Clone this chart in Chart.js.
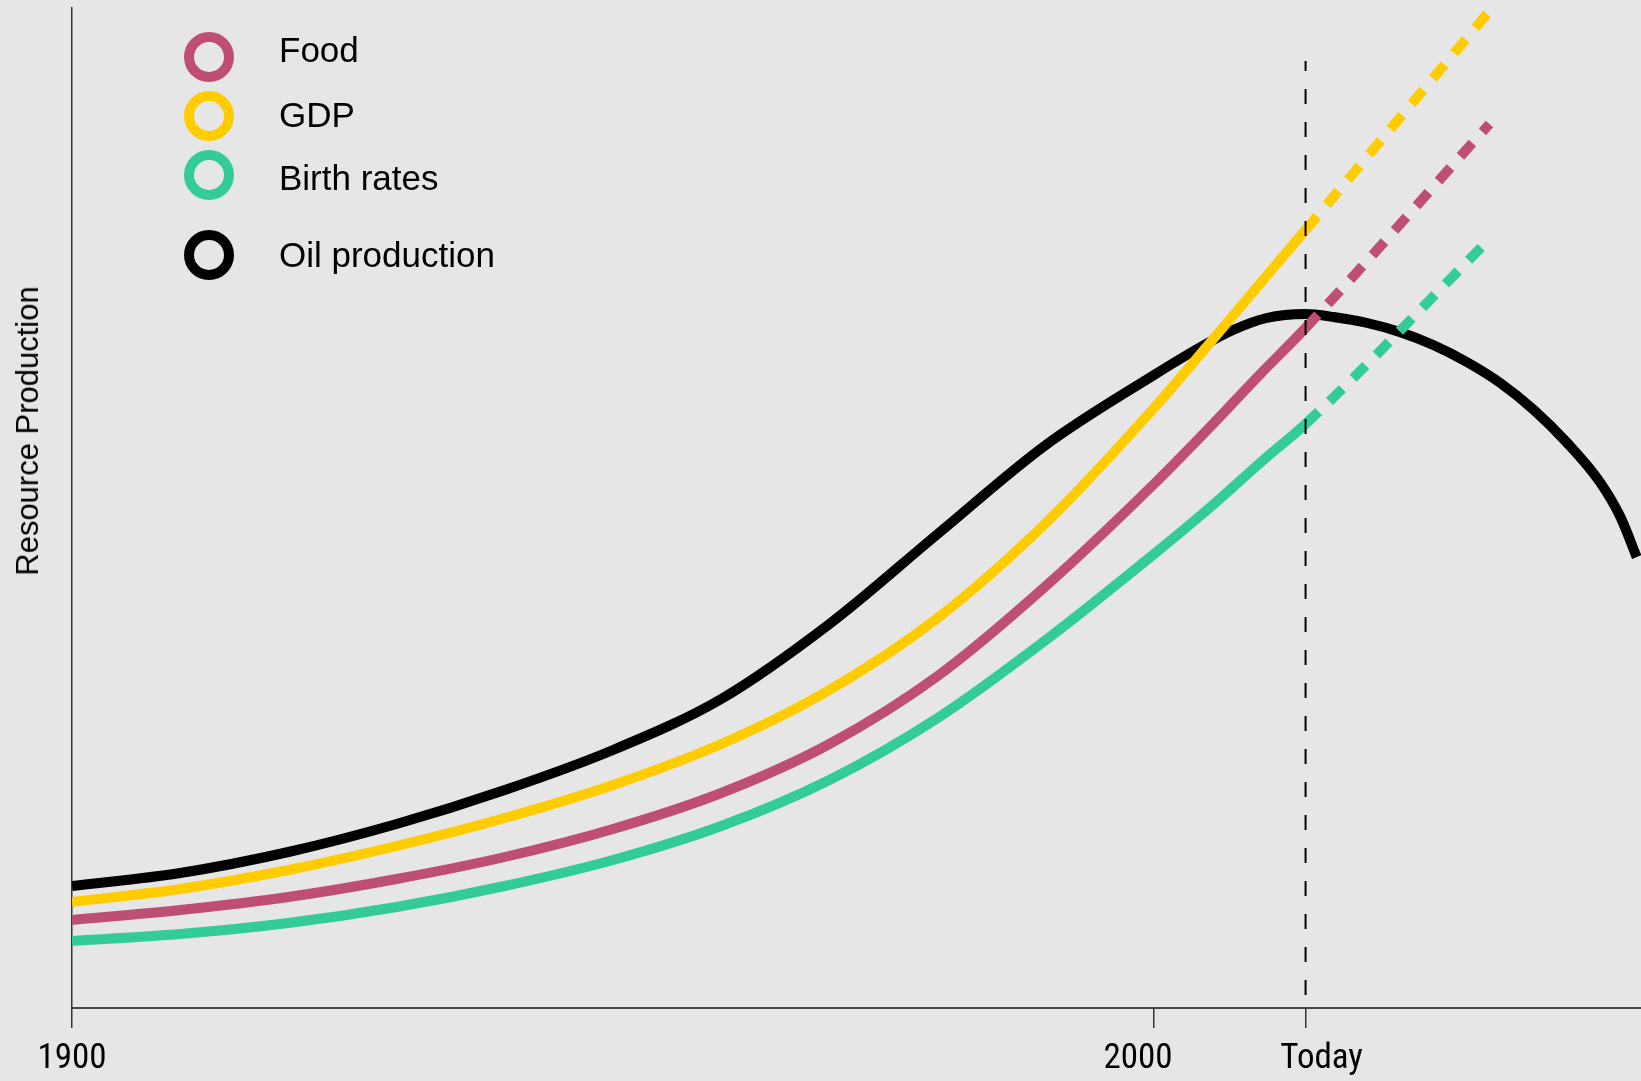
<!DOCTYPE html>
<html>
<head>
<meta charset="utf-8">
<script src="https://cdn.jsdelivr.net/npm/chart.js@4.4.1/dist/chart.umd.min.js"></script>
<style>
  html, body { margin:0; padding:0; background:#E6E6E6; width:1641px; height:1081px; overflow:hidden; }
  #wrap { position:relative; width:1641px; height:1081px; }
  #chart { position:absolute; left:0; top:0; }
  .ring { position:absolute; width:30px; height:30px; border:10px solid #000; border-radius:50%; box-sizing:content-box; }
  .ltxt { position:absolute; font-family:"Liberation Sans", Arial, sans-serif; font-size:35px; line-height:35px; white-space:nowrap; color:#000; }
  #ytitle { position:absolute; left:28.4px; top:431px; transform:translate(-50%,-50%) rotate(-90deg);
            font-family:"Liberation Sans", Arial, sans-serif; font-size:31px; line-height:32px; white-space:nowrap; color:#000; }
</style>
</head>
<body>
<div id="wrap">
  <canvas id="chart" width="1641" height="1081"></canvas>
  <div id="legend"></div>
  <div id="ytitle"></div>
</div>
<script>
// ---------------- data ----------------
const yAxisTitle = "Resource Production";
const seriesNames  = ["Food", "GDP", "Birth rates", "Oil production"];
const seriesColors = ["#BE4F72", "#FFCC00", "#33CC99", "#000000"];

const todayYear = 2014;
const xTickValues = [1900, 2000, 2014];
const xTickLabels = ["1900", "2000", "Today"];

const trendYears = [1900,1910,1920,1930,1940,1950,1960,1970,1980,1990,2000,2005,2010,2014,2031];
const foodValues  = [8.8, 9.8, 11.1, 12.9, 15.1, 17.9, 21.5, 26.4, 33.2, 42.2, 52.4, 57.9, 63.6, 68.0, 88.4];
const gdpValues   = [10.6, 11.9, 13.8, 16.2, 19.0, 22.3, 26.4, 31.8, 39.0, 48.5, 60.0, 66.3, 72.7, 77.8, 99.7];
const birthValues = [6.7, 7.4, 8.5, 10.1, 12.2, 14.8, 18.2, 22.8, 29.0, 36.8, 45.4, 49.9, 54.7, 58.4, 76.9];

const oilYears  = [1900,1910,1920,1930,1940,1950,1960,1970,1980,1990,2000,2004.3,2007.3,2010.4,2014,
                   2016.6,2019.7,2022.7,2025.8,2028.9,2032.0,2035.1,2038.1,2041.2,2043.1,2044.6];
const oilValues = [12.2, 13.5, 15.6, 18.4, 21.8, 25.8, 30.9, 38.4, 47.4, 56.3, 63.3, 66.1, 67.8, 69.0, 69.4,
                   69.1, 68.5, 67.6, 66.3, 64.6, 62.5, 59.8, 56.6, 52.6, 49.1, 45.1];

const todayLineTop = 94.7;

// ---------------- helpers ----------------
const pts = (xs, ys) => xs.map((x, i) => ({ x: x, y: ys[i] }));
const projDash = ctx => (ctx.p0.parsed.x >= todayYear - 1e-9 ? [18, 15] : undefined);

function seriesDataset(idx, xs, ys, order, projected) {
  const ds = {
    label: seriesNames[idx],
    data: pts(xs, ys),
    borderColor: seriesColors[idx],
    borderWidth: 10,
    borderCapStyle: 'butt',
    pointRadius: 0,
    fill: false,
    cubicInterpolationMode: 'monotone',
    order: order
  };
  if (projected) ds.segment = { borderDash: projDash };
  return ds;
}

// ---------------- legend (HTML) ----------------
const legendRingY = [56.7, 116, 175, 255];
const legendBaseY = [61.7, 126.7, 190, 266.7];
const legendEl = document.getElementById('legend');
seriesNames.forEach((name, i) => {
  const r = document.createElement('div');
  r.className = 'ring';
  r.style.borderColor = seriesColors[i];
  r.style.left = (209 - 25) + 'px';
  r.style.top = (legendRingY[i] - 25) + 'px';
  legendEl.appendChild(r);
  const t = document.createElement('div');
  t.className = 'ltxt';
  t.textContent = name;
  t.style.left = '279px';
  t.style.top = (legendBaseY[i] - 29.6) + 'px';
  legendEl.appendChild(t);
});
document.getElementById('ytitle').textContent = yAxisTitle;

// ---------------- chart ----------------
const tickFont = { family: '"Liberation Sans Narrow", "Roboto Condensed", "DejaVu Sans Condensed", "Liberation Sans", sans-serif', size: 35 };
const labelShift = { 2000: ["", "    "], 2014: ["    ", ""] };

new Chart(document.getElementById('chart'), {
  type: 'line',
  data: {
    datasets: [
      {
        label: 'Today',
        data: [{ x: todayYear, y: todayLineTop }, { x: todayYear, y: 0 }],
        borderColor: '#000',
        borderWidth: 2,
        borderDash: [15, 18],
        borderDashOffset: 5,
        pointRadius: 0,
        tension: 0,
        fill: false,
        order: 0
      },
      seriesDataset(0, trendYears, foodValues, 1, true),
      seriesDataset(1, trendYears, gdpValues, 2, true),
      seriesDataset(2, trendYears, birthValues, 3, true),
      seriesDataset(3, oilYears, oilValues, 4, false)
    ]
  },
  options: {
    responsive: false,
    devicePixelRatio: 1,
    animation: false,
    events: [],
    layout: { padding: { top: 8, right: 0, left: 0, bottom: 0 } },
    plugins: { legend: { display: false }, tooltip: { enabled: false }, title: { display: false } },
    scales: {
      x: {
        type: 'linear',
        min: 1900,
        max: 2045,
        afterBuildTicks: s => { s.ticks = xTickValues.map(v => ({ value: v })); },
        afterFit: s => { s.height = 73; },
        grid: { display: true, drawOnChartArea: false, drawTicks: true, tickLength: 20, color: '#333', lineWidth: 1.5 },
        border: { display: true, color: '#444', width: 2 },
        ticks: {
          autoSkip: false,
          maxRotation: 0,
          minRotation: 0,
          padding: 10,
          color: '#000',
          font: tickFont,
          callback: function (value) {
            const i = xTickValues.indexOf(value);
            if (i < 0) return '';
            const sh = labelShift[value] || ["", ""];
            return sh[0] + xTickLabels[i] + sh[1];
          }
        }
      },
      y: {
        type: 'linear',
        min: 0,
        max: 100,
        afterFit: s => { s.width = 72; },
        grid: { display: false, drawTicks: false },
        border: { display: true, color: '#333', width: 1.5 },
        ticks: { display: false }
      }
    }
  }
});
</script>
</body>
</html>
